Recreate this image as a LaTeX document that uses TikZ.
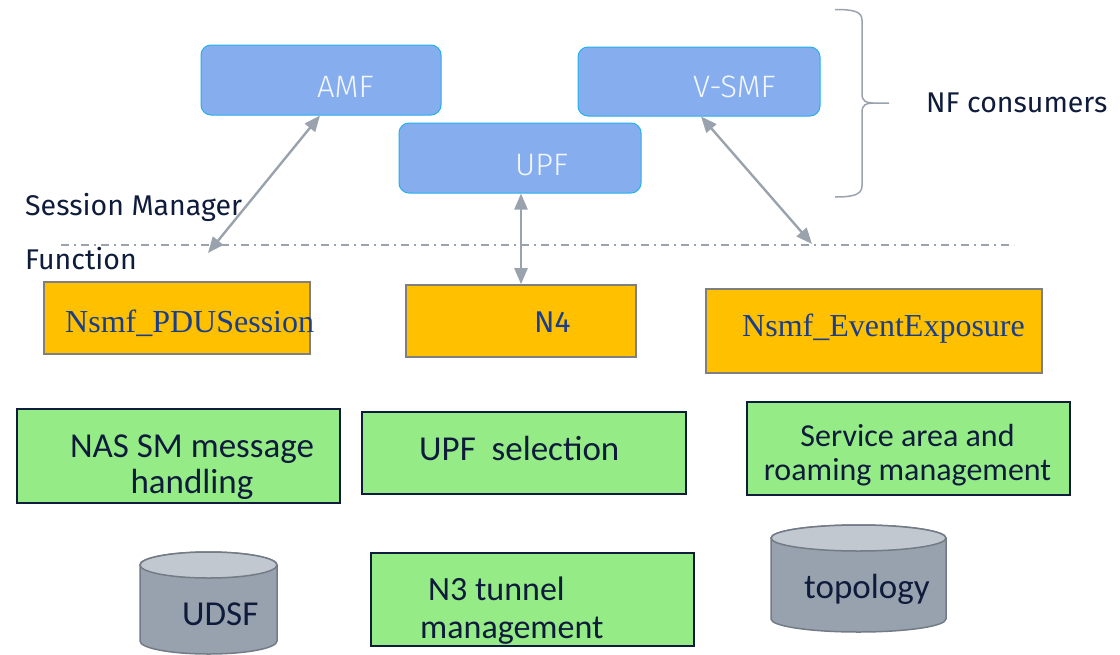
\documentclass[tikz,border=0pt]{standalone}
\usepackage{fontspec}
\setmainfont{Liberation Serif}
\newfontfamily\purefont{Fira Sans Light}
\newfontfamily\sidefont{Fira Sans}
\newfontfamily\bodyfont{Carlito}
\usetikzlibrary{arrows.meta}

\definecolor{nffill}{HTML}{86AEEE}
\definecolor{nfedge}{HTML}{22B0EE}
\definecolor{nfink}{HTML}{F4F7FF}
\definecolor{svcfill}{HTML}{FFC000}
\definecolor{svcedge}{HTML}{7F7F7F}
\definecolor{svcink}{HTML}{1B3E8C}
\definecolor{fnfill}{HTML}{95EB85}
\definecolor{fnedge}{HTML}{101C3C}
\definecolor{ink}{HTML}{0F1B3B}
\definecolor{linkgray}{HTML}{9AA3AD}
\definecolor{dbbody}{HTML}{98A2AE}
\definecolor{dbtop}{HTML}{C1C8D0}
\definecolor{dbedge}{HTML}{737B86}

\begin{document}
\begin{tikzpicture}[x=1pt,y=-1pt,
  nfbox/.style={draw=nfedge, fill=nffill, line width=1pt, rounded corners=10pt, inner sep=0pt},
  nflabel/.style={anchor=base west, inner sep=0pt, text=nfink, font=\purefont\fontsize{31}{34}\selectfont},
  svcbox/.style={draw=svcedge, fill=svcfill, line width=1.6pt, inner sep=0pt},
  svclabel/.style={anchor=base west, inner sep=0pt, text=svcink, font=\fontsize{32}{36}\selectfont},
  fnbox/.style={draw=fnedge, fill=fnfill, line width=1.8pt, inner sep=0pt},
  fnlabel/.style={inner sep=0pt, text=ink, align=center},
  sidelabel/.style={anchor=base west, inner sep=0pt, text=ink, font=\sidefont\fontsize{28.5}{34}\selectfont},
  dblabel/.style={anchor=base west, inner sep=0pt, text=ink, font=\bodyfont\fontsize{35}{38}\selectfont},
  dbside/.style={fill=dbbody, draw=dbedge, line width=1.5pt},
  dbcap/.style={fill=dbtop, draw=dbedge, line width=1.5pt},
  link/.style={draw=linkgray, line width=2.4pt, {Triangle[length=16pt,width=13pt]}-{Triangle[length=16pt,width=13pt]}},
]
\useasboundingbox (0,0) rectangle (1120,654);
\clip (0,0) rectangle (1120,654);

% NF consumers
\node[nfbox, minimum width=240pt, minimum height=70pt] (amf) at (321,80) {};
\node[nflabel] (amft) at (317,97) {AMF};
\node[nfbox, minimum width=242pt, minimum height=69pt] (vsmf) at (699,81.5) {};
\node[nflabel] (vsmft) at (693,97) {V-SMF};
\node[nfbox, minimum width=242pt, minimum height=70pt] (upf) at (520,158) {};
\node[nflabel] (upft) at (515,175) {UPF};

% brace grouping the consumers
\draw[linkgray, line width=1.5pt]
  (835,9.5) .. controls (852,9.5) and (862,11) .. (862,20) -- (862,94)
  .. controls (862,101) and (866,103) .. (873,103) -- (889,103);
\draw[linkgray, line width=1.5pt]
  (873,103) .. controls (866,103) and (862,105) .. (862,112) -- (862,186)
  .. controls (862,195) and (852,197) .. (835,197);
\node[sidelabel] (nfc) at (926,112.7) {NF consumers};

% function boundary
\node[sidelabel] (smf1) at (25,215) {Session Manager};
\node[sidelabel] (smf2) at (25,269) {Function};
\coordinate (bl) at (61,245);
\coordinate (br) at (1014,245);
\draw[linkgray, line width=1.2pt, dash pattern=on 8pt off 5pt on 2pt off 5pt] (bl) -- (br);

% service interfaces
\node[svcbox, minimum width=266pt, minimum height=72pt] (pdu) at (177,318) {};
\node[svclabel] (pdut) at (65,332) {Nsmf\_PDUSession};
\node[svcbox, minimum width=230pt, minimum height=72pt] (n4) at (521,321) {};
\node[anchor=base west, inner sep=0pt, text=svcink, font=\sidefont\fontsize{30}{34}\selectfont] (n4t) at (534,332.5) {N4};
\node[svcbox, minimum width=336pt, minimum height=84pt] (ee) at (874,331) {};
\node[svclabel] (eet) at (742,336.7) {Nsmf\_EventExposure};

% links to the consumers
\coordinate (amfend) at (208,253);
\coordinate (vsmfend) at (812,244);
\draw[link] (amf.south -| 320,0) -- (amfend);
\draw[link] (upf.south -| 521,0) -- (n4.north -| 521,0);
\draw[link] (vsmf.south -| 701,0) -- (vsmfend);

% internal functions
\node[fnbox, minimum width=323pt, minimum height=94pt] (nas) at (178.5,456) {};
\node[fnlabel, font=\bodyfont\fontsize{35}{36.3}\selectfont] (nast) at (192,467.3) {NAS SM message\\handling};
\node[fnbox, minimum width=324pt, minimum height=82pt] (sel) at (524,453) {};
\node[anchor=base west, inner sep=0pt, text=ink, font=\bodyfont\fontsize{35}{38}\selectfont] (selt) at (419,460) {UPF\ \ selection};
\node[fnbox, minimum width=323pt, minimum height=93pt] (svc) at (908.5,448.5) {};
\node[fnlabel, font=\bodyfont\fontsize{32}{34.3}\selectfont] (svct) at (907.5,455) {Service area and\\roaming management};
\node[fnbox, minimum width=323pt, minimum height=93pt] (n3) at (532.5,599.5) {};
\node[fnlabel, align=left, anchor=west, font=\bodyfont\fontsize{34}{38}\selectfont] (n3t) at (420,610.7) {\hspace*{8pt}N3 tunnel\\management};

% data stores
\path[dbside] (140,565) -- (140,641) arc[start angle=180, end angle=360, x radius=68.5pt, y radius=13pt]
  -- (277,565) arc[start angle=0, end angle=180, x radius=68.5pt, y radius=13pt] -- cycle;
\path[dbcap] (208.5,565) ellipse [x radius=68.5pt, y radius=13pt];
\node[dblabel] (udsf) at (182,625) {UDSF};

\path[dbside] (771,538) -- (771,619) arc[start angle=180, end angle=360, x radius=87.5pt, y radius=13pt]
  -- (946,538) arc[start angle=0, end angle=180, x radius=87.5pt, y radius=13pt] -- cycle;
\path[dbcap] (858.5,538) ellipse [x radius=87.5pt, y radius=13pt];
\node[dblabel] (topo) at (804,598) {topology};
\end{tikzpicture}
\end{document}
